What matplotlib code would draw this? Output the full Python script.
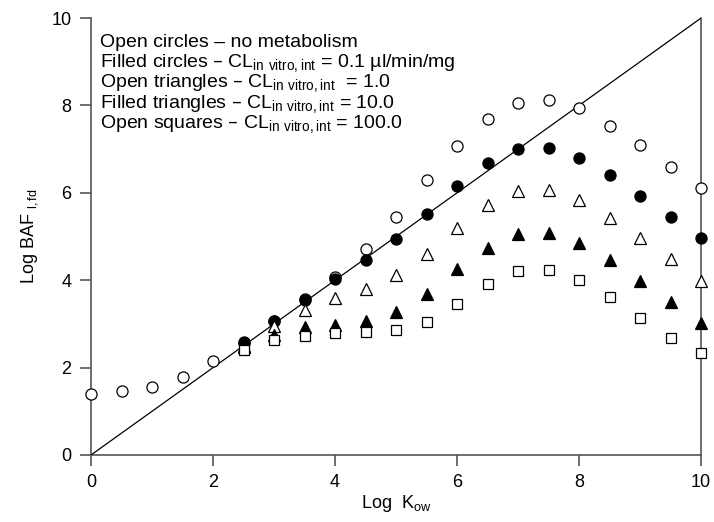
import numpy as np
import matplotlib.pyplot as plt

plt.rcParams['font.family'] = ['Liberation Sans', 'DejaVu Sans']
plt.rcParams['mathtext.default'] = 'regular'

# Log Kow values
kow_all = [0, 0.5, 1, 1.5, 2, 2.5, 3, 3.5, 4, 4.5, 5, 5.5, 6, 6.5, 7, 7.5, 8, 8.5, 9, 9.5, 10]
kow_met = [2.5, 3, 3.5, 4, 4.5, 5, 5.5, 6, 6.5, 7, 7.5, 8, 8.5, 9, 9.5, 10]

# no metabolism (open circles)
baf_none = [1.40, 1.46, 1.56, 1.78, 2.15, 2.57, 3.07, 3.58, 4.08, 4.72, 5.45, 6.29, 7.08, 7.69,
            8.05, 8.13, 7.93, 7.54, 7.09, 6.58, 6.10]
# CL = 0.1 (filled circles)
baf_01 = [2.58, 3.07, 3.55, 4.02, 4.46, 4.95, 5.52, 6.15, 6.68, 7.00, 7.02, 6.80, 6.40, 5.93, 5.45, 4.97]
# CL = 1.0 (open triangles)
baf_1 = [2.50, 2.95, 3.32, 3.60, 3.79, 4.12, 4.60, 5.20, 5.72, 6.04, 6.06, 5.83, 5.43, 4.97, 4.48, 3.98]
# CL = 10.0 (filled triangles)
baf_10 = [2.48, 2.75, 2.94, 2.97, 3.07, 3.28, 3.68, 4.25, 4.74, 5.06, 5.09, 4.84, 4.46, 3.98, 3.51, 3.01]
# CL = 100.0 (open squares)
baf_100 = [2.40, 2.63, 2.73, 2.78, 2.81, 2.86, 3.04, 3.45, 3.91, 4.21, 4.23, 4.00, 3.62, 3.14, 2.68, 2.34]

legend_lines = [
    "Open circles \u2013 no metabolism",
    "Filled circles \u2013 CL$_{in\\ vitro,int}$ = 0.1 \u00b5l/min/mg",
    "Open triangles \u2013 CL$_{in\\ vitro,int}$  = 1.0",
    "Filled triangles \u2013 CL$_{in\\ vitro,int}$ = 10.0",
    "Open squares \u2013 CL$_{in\\ vitro,int}$ = 100.0",
]

fig = plt.figure(figsize=(7.14, 5.22), dpi=100)
ax = fig.add_axes([0.1275, 0.1284, 0.8545, 0.8371])

ax.plot([0, 10], [0, 10], color='black', linewidth=0.9, zorder=1)

kw = dict(mec='black', mew=0.9, clip_on=False, linestyle='none')
ax.plot(kow_all, baf_none, 'o', ms=8, mfc='white', zorder=2, **kw)
ax.plot(kow_met, baf_01, 'o', ms=8, mfc='black', zorder=3, **kw)
ax.plot(kow_met, baf_1, '^', ms=8, mfc='white', zorder=3, **kw)
ax.plot(kow_met, baf_10, '^', ms=8, mfc='black', zorder=4, **kw)
ax.plot(kow_met, baf_100, 's', ms=7, mfc='white', zorder=5, **kw)

ax.set_xlim(0, 10)
ax.set_ylim(0, 10)
ax.set_xticks([0, 2, 4, 6, 8, 10])
ax.set_yticks([0, 2, 4, 6, 8, 10])
ax.spines['top'].set_visible(False)
for s in ['left', 'bottom', 'right']:
    ax.spines[s].set_color('#555555')
    ax.spines[s].set_linewidth(1.2)
    ax.spines[s].set_zorder(0)
ax.tick_params(direction='out', length=8, width=1.2, color='#555555', labelsize=13, pad=6)

ax.set_xlabel("Log  K$_{ow}$", fontsize=13, labelpad=1)
ax.set_ylabel("Log BAF $_{l,fd}$", fontsize=13, labelpad=8)

for i, line in enumerate(legend_lines):
    ax.text(0.015, 0.945 - i * 0.047, line, transform=ax.transAxes, fontsize=14,
            va='center', ha='left')

fig.savefig('out.png', dpi=100)
